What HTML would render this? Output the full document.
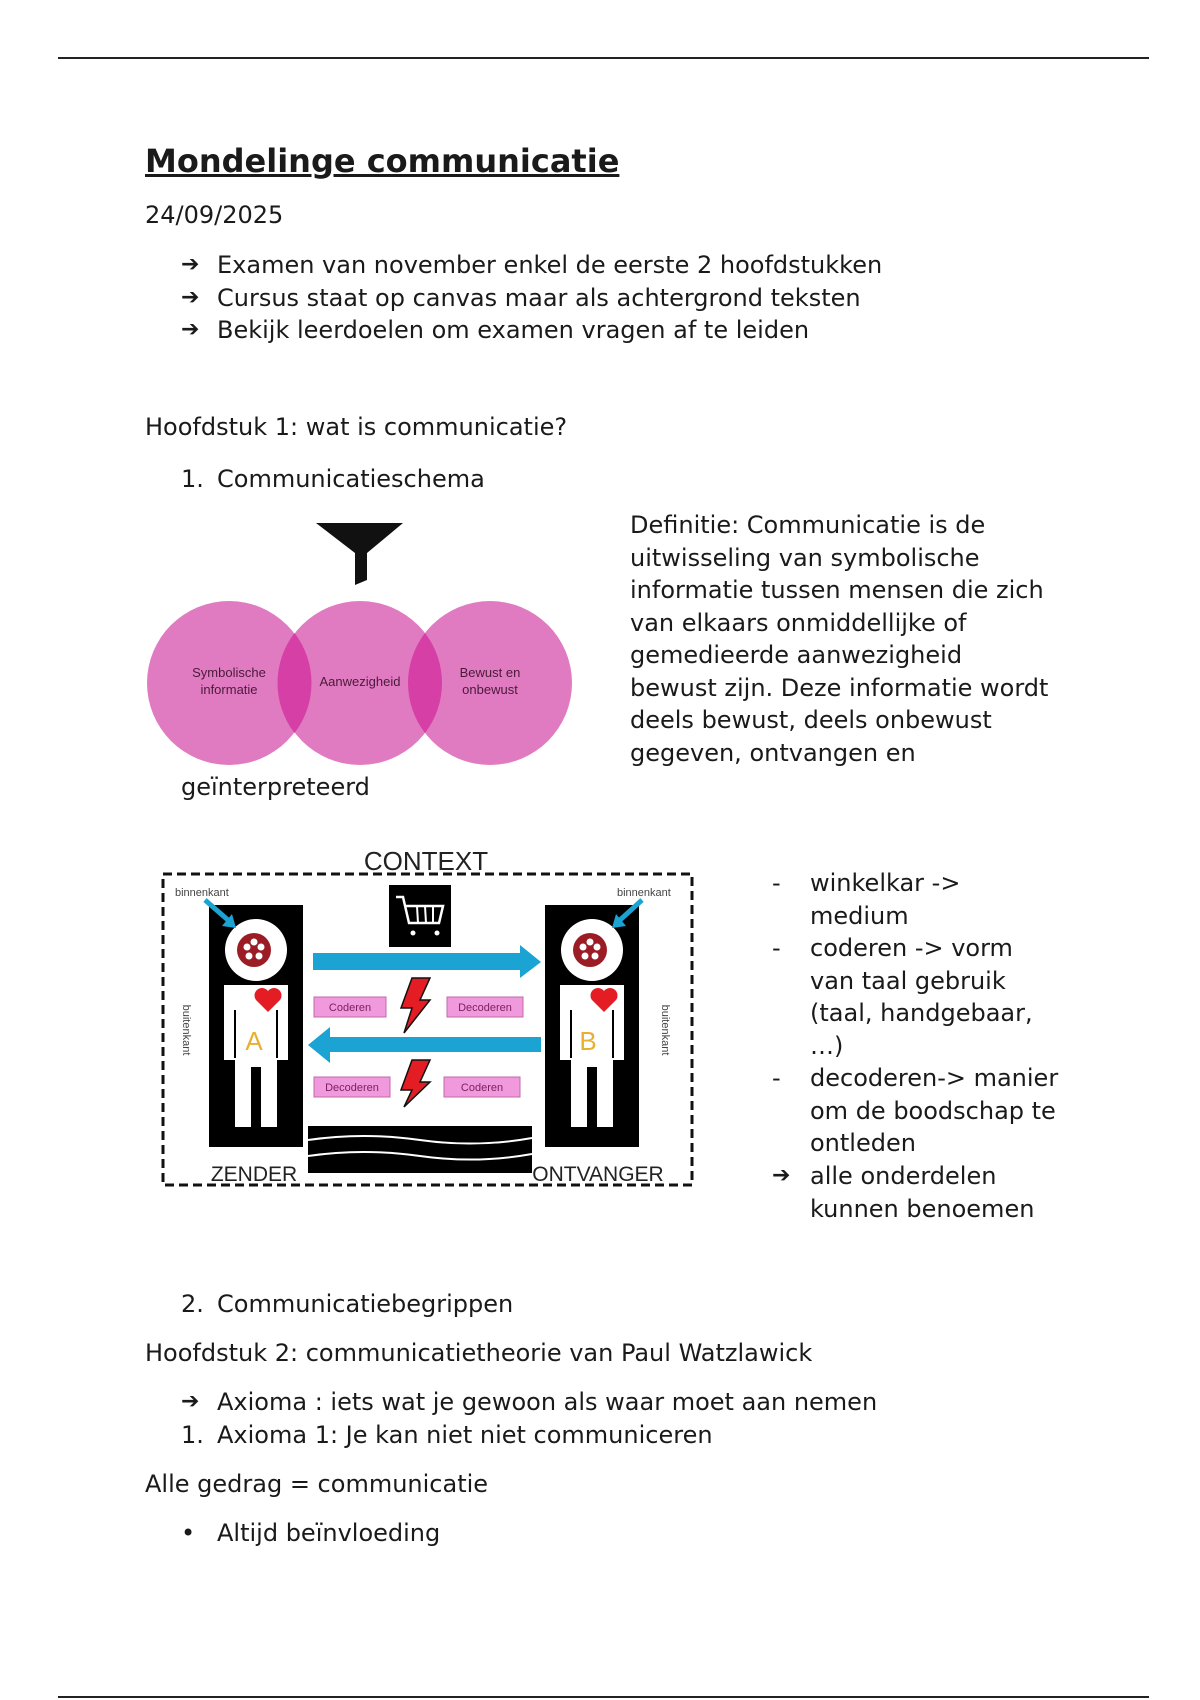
<!DOCTYPE html>
<html><head><meta charset="utf-8"><style>
body{margin:0;width:1200px;height:1700px;background:#fff;position:relative;overflow:hidden;font-family:"DejaVu Sans","Liberation Sans",sans-serif;color:#1a1a1a}
.t{position:absolute;font-size:24px;line-height:32.5px;white-space:nowrap}
.a{font-weight:bold;font-size:22px}
.hr{position:absolute;left:58px;width:1091px;height:2px;background:#222}
</style></head><body>
<div class="hr" style="top:57px"></div>
<div class="hr" style="top:1696px"></div>
<div class="t" style="left:145px;top:142px;font-size:32px;font-weight:bold;text-decoration:underline;line-height:38px">Mondelinge communicatie</div>
<div class="t" style="left:145px;top:199px">24/09/2025</div>
<div class="t a" style="left:181px;top:249px">➔</div><div class="t" style="left:217px;top:249px">Examen van november enkel de eerste 2 hoofdstukken</div>
<div class="t a" style="left:181px;top:282px">➔</div><div class="t" style="left:217px;top:282px">Cursus staat op canvas maar als achtergrond teksten</div>
<div class="t a" style="left:181px;top:314px">➔</div><div class="t" style="left:217px;top:314px">Bekijk leerdoelen om examen vragen af te leiden</div>
<div class="t" style="left:145px;top:411px">Hoofdstuk 1: wat is communicatie?</div>
<div class="t" style="left:181px;top:463px">1.</div><div class="t" style="left:217px;top:463px">Communicatieschema</div>

<svg style="position:absolute;left:0;top:0" width="1200" height="1700">
 <polygon points="316,523 403,523 367,553 367,580 355,585 355,553" fill="#111"/>
 <g fill="#e07bc1">
  <circle cx="229" cy="683" r="82"/><circle cx="360" cy="683" r="82"/><circle cx="490" cy="683" r="82"/>
 </g>
 <path d="M294.5,633 A82,82 0 0 1 294.5,733 A82,82 0 0 1 294.5,633Z" fill="#d63fa6"/>
 <path d="M425,633 A82,82 0 0 1 425,733 A82,82 0 0 1 425,633Z" fill="#d63fa6"/>
 <g font-family="Liberation Sans,sans-serif" font-size="13" fill="#4a1a3a" text-anchor="middle">
  <text x="229" y="677">Symbolische</text><text x="229" y="694">informatie</text>
  <text x="360" y="686">Aanwezigheid</text>
  <text x="490" y="677">Bewust en</text><text x="490" y="694">onbewust</text>
 </g>
 <text x="426" y="870" font-family="Liberation Sans,sans-serif" font-size="26" text-anchor="middle" fill="#222">CONTEXT</text>
 <rect x="163" y="874" width="529" height="311" fill="none" stroke="#111" stroke-width="3" stroke-dasharray="9,5"/>
 <text x="175" y="896" font-size="11" font-family="Liberation Sans,sans-serif" fill="#444">binnenkant</text>
 <text x="617" y="896" font-size="11" font-family="Liberation Sans,sans-serif" fill="#444">binnenkant</text>
 <g font-size="11" font-family="Liberation Sans,sans-serif" fill="#444">
  <text transform="translate(183,1030) rotate(90)" text-anchor="middle">buitenkant</text>
  <text transform="translate(662,1030) rotate(90)" text-anchor="middle">buitenkant</text>
 </g>
 <g>
  <rect x="209" y="905" width="94" height="242" fill="#000"/>
  <circle cx="256" cy="950" r="31" fill="#fff"/>
  <circle cx="254" cy="950" r="17" fill="#9b1c24"/>
  <g fill="#fff"><circle cx="254" cy="942" r="3.5"/><circle cx="261" cy="947" r="3.5"/><circle cx="259" cy="956" r="3.5"/><circle cx="249" cy="956" r="3.5"/><circle cx="247" cy="947" r="3.5"/></g>
  <path d="M224,985 h64 v75 h-11 v67 h-16 v-60 h-10 v60 h-16 v-67 h-11z" fill="#fff"/>
  <line x1="235" y1="1010" x2="235" y2="1058" stroke="#000" stroke-width="2"/>
  <line x1="277" y1="1010" x2="277" y2="1058" stroke="#000" stroke-width="2"/>
  <path d="M268,1012 l-12,-12 a7,7 0 0 1 12,-9 a7,7 0 0 1 12,9z" fill="#e41c23"/>
 </g>
 <text x="254" y="1050" font-size="26" font-family="Liberation Sans,sans-serif" fill="#e8b030" text-anchor="middle">A</text>
 <g transform="translate(336,0)">
  <rect x="209" y="905" width="94" height="242" fill="#000"/>
  <circle cx="256" cy="950" r="31" fill="#fff"/>
  <circle cx="254" cy="950" r="17" fill="#9b1c24"/>
  <g fill="#fff"><circle cx="254" cy="942" r="3.5"/><circle cx="261" cy="947" r="3.5"/><circle cx="259" cy="956" r="3.5"/><circle cx="249" cy="956" r="3.5"/><circle cx="247" cy="947" r="3.5"/></g>
  <path d="M224,985 h64 v75 h-11 v67 h-16 v-60 h-10 v60 h-16 v-67 h-11z" fill="#fff"/>
  <line x1="235" y1="1010" x2="235" y2="1058" stroke="#000" stroke-width="2"/>
  <line x1="277" y1="1010" x2="277" y2="1058" stroke="#000" stroke-width="2"/>
  <path d="M268,1012 l-12,-12 a7,7 0 0 1 12,-9 a7,7 0 0 1 12,9z" fill="#e41c23"/>
 </g>
 <text x="588" y="1050" font-size="26" font-family="Liberation Sans,sans-serif" fill="#e8b030" text-anchor="middle">B</text>
 <g stroke="#1ba3d4" stroke-width="5"><line x1="205" y1="900" x2="228" y2="920"/><line x1="642" y1="900" x2="620" y2="920"/></g>
 <polygon points="236,928 222,926 232,914" fill="#1ba3d4"/>
 <polygon points="612,928 616,914 626,926" fill="#1ba3d4"/>
 <rect x="389" y="885" width="62" height="62" fill="#000"/>
 <path d="M396,897 h7 l6,26 h30 l4,-17 h-37" fill="none" stroke="#fff" stroke-width="2.5"/>
 <g stroke="#fff" stroke-width="2"><line x1="417" y1="906" x2="418" y2="923"/><line x1="425" y1="906" x2="426" y2="923"/><line x1="433" y1="906" x2="433" y2="923"/></g>
 <circle cx="413" cy="933" r="2.5" fill="#fff"/><circle cx="437" cy="933" r="2.5" fill="#fff"/>
 <polygon points="313,953 520,953 520,945 541,962 520,978 520,970 313,970" fill="#1ba3d4"/>
 <polygon points="541,1037 330,1037 330,1027 308,1045 330,1063 330,1052 541,1052" fill="#1ba3d4"/>
 <g fill="#f09add" stroke="#c06aa8" stroke-width="1">
  <rect x="314" y="997" width="72" height="20"/><rect x="447" y="997" width="76" height="20"/>
  <rect x="314" y="1077" width="76" height="20"/><rect x="444" y="1077" width="76" height="20"/>
 </g>
 <g font-size="11" font-family="Liberation Sans,sans-serif" fill="#7a2060" text-anchor="middle">
  <text x="350" y="1011">Coderen</text><text x="485" y="1011">Decoderen</text>
  <text x="352" y="1091">Decoderen</text><text x="482" y="1091">Coderen</text>
 </g>
 <g fill="#e41c23" stroke="#111" stroke-width="1.5">
  <polygon points="412,978 430,978 420,1000 430,1000 404,1033 412,1008 401,1008"/>
  <polygon points="412,1060 430,1060 420,1082 430,1082 404,1107 412,1090 401,1090"/>
 </g>
 <rect x="308" y="1126" width="224" height="47" fill="#000"/>
 <path d="M308,1140 q56,-8 112,0 t112,-2 M308,1156 q56,-8 112,0 t112,-2" stroke="#fff" stroke-width="2" fill="none"/>
 <text x="254" y="1181" font-size="21" font-family="Liberation Sans,sans-serif" fill="#222" text-anchor="middle">ZENDER</text>
 <text x="598" y="1181" font-size="21" font-family="Liberation Sans,sans-serif" fill="#222" text-anchor="middle">ONTVANGER</text>
</svg>

<div class="t" style="left:630px;top:509px">Definitie: Communicatie is de<br>uitwisseling van symbolische<br>informatie tussen mensen die zich<br>van elkaars onmiddellijke of<br>gemedieerde aanwezigheid<br>bewust zijn. Deze informatie wordt<br>deels bewust, deels onbewust<br>gegeven, ontvangen en</div>
<div class="t" style="left:181px;top:771px">geïnterpreteerd</div>

<div class="t" style="left:772px;top:867px">-</div><div class="t" style="left:810px;top:867px">winkelkar -&gt;<br>medium</div>
<div class="t" style="left:772px;top:932px">-</div><div class="t" style="left:810px;top:932px">coderen -&gt; vorm<br>van taal gebruik<br>(taal, handgebaar,<br>…)</div>
<div class="t" style="left:772px;top:1062px">-</div><div class="t" style="left:810px;top:1062px">decoderen-&gt; manier<br>om de boodschap te<br>ontleden</div>
<div class="t a" style="left:772px;top:1160px">➔</div><div class="t" style="left:810px;top:1160px">alle onderdelen<br>kunnen benoemen</div>

<div class="t" style="left:181px;top:1288px">2.</div><div class="t" style="left:217px;top:1288px">Communicatiebegrippen</div>
<div class="t" style="left:145px;top:1337px">Hoofdstuk 2: communicatietheorie van Paul Watzlawick</div>
<div class="t a" style="left:181px;top:1386px">➔</div><div class="t" style="left:217px;top:1386px">Axioma : iets wat je gewoon als waar moet aan nemen</div>
<div class="t" style="left:181px;top:1419px">1.</div><div class="t" style="left:217px;top:1419px">Axioma 1: Je kan niet niet communiceren</div>
<div class="t" style="left:145px;top:1468px">Alle gedrag = communicatie</div>
<div class="t" style="left:181px;top:1517px">•</div><div class="t" style="left:217px;top:1517px">Altijd beïnvloeding</div>
</body></html>
